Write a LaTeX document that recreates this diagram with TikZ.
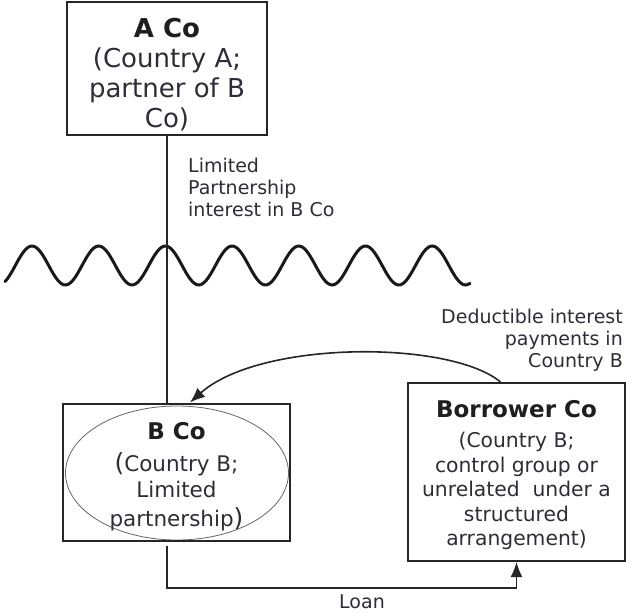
\documentclass[tikz,border=0pt]{standalone}
\usepackage{fontspec}
\setmainfont{DejaVu Sans}
\usetikzlibrary{arrows.meta,shapes.geometric}
\definecolor{txt}{RGB}{45,45,55}
\definecolor{ttl}{RGB}{30,30,30}
\tikzset{
  box/.style={draw=black!85, line width=2pt, rectangle, align=center, text=txt, inner sep=0pt},
  lbl/.style={text=txt, inner sep=0pt},
  conn/.style={draw=black!85, line width=1.6pt},
  tip/.style={-{Latex[length=15pt,width=12pt]}}
}
\begin{document}
\begin{tikzpicture}[x=1pt,y=-1pt]
\useasboundingbox (0,0) rectangle (627,612);
% A Co
\node[box, minimum width=200pt, minimum height=133pt, font=\fontsize{26}{30}\selectfont] (aco) at (167,68.5)
  {\rule{0pt}{32pt}{\bfseries\color{ttl}A Co}\\(Country A;\\partner of B\\Co)};
% B Co
\node[draw=black!60, line width=0.8pt, ellipse, minimum width=223pt, minimum height=134pt] (bell) at (177,473) {};
\node[box, fill=none, minimum width=227pt, minimum height=137pt, font=\fontsize{21.5}{26}\selectfont] (bco) at (176.5,472.5)
  {\rule{0pt}{26pt}{\fontsize{23}{27}\selectfont\bfseries\color{ttl}B Co}\\[6pt]{\fontsize{25}{27}\selectfont(}Country B;\\Limited\\[3pt]partnership{\fontsize{25}{27}\selectfont)}};
% Borrower Co
\node[box, minimum width=217pt, minimum height=178pt, font=\fontsize{20.3}{24.5}\selectfont] (bor) at (516.5,472)
  {\rule{0pt}{23pt}{\fontsize{23}{26}\selectfont\bfseries\color{ttl}Borrower Co}\\[6pt](Country B;\\control group or\\unrelated~ under a\\structured\\arrangement)};
% wave
\draw[line width=3pt, black!90, line cap=round] plot[domain=5:470, samples=200, smooth] (\x, {265.5 - 19.5*cos(((\x-32)/66.7)*360)});
% connectors
\coordinate (top) at (aco.south |- bco.north);
\draw[conn] (aco.south) -- (top);
\node[lbl, anchor=west, align=left, font=\fontsize{19}{22}\selectfont] (lp) at (188,187)
  {Limited\\Partnership\\interest in B Co};
\draw[conn, tip] (bor.north) ++(-16,0) coordinate (bst) .. controls (450,340) and (260,340) .. (190,402.5) coordinate (bend);
\node[lbl, anchor=east, align=right, font=\fontsize{19}{22}\selectfont] (ded) at (623,340)
  {Deductible interest\\payments in\\Country B};
\coordinate (lb) at (aco.south |- bco.south);
\draw[conn, tip] (lb) ++(0,4) -- ++(0,42) coordinate (corner) -| (bor.south);
\node[lbl, font=\fontsize{19}{22}\selectfont] (loan) at (362,602) {Loan};
\end{tikzpicture}
\end{document}
